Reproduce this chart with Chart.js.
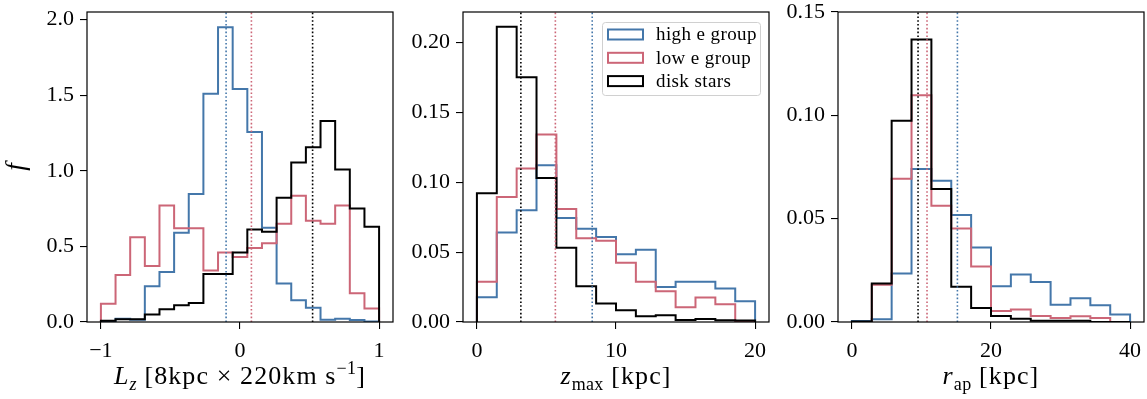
<!DOCTYPE html>
<html>
<head>
<meta charset="utf-8">
<script src="https://cdn.jsdelivr.net/npm/chart.js@4.4.1/dist/chart.umd.min.js"></script>
<style>
  body { margin: 0; background: #fff; }
  #wrap { position: relative; width: 1147px; height: 399px; }
  canvas { position: absolute; top: 0; }
</style>
</head>
<body>
<div id="wrap">
  <canvas id="lz" width="400" height="399" style="left:0px"></canvas>
  <canvas id="zmax" width="376" height="399" style="left:400px"></canvas>
  <canvas id="rap" width="371" height="399" style="left:776px"></canvas>
</div>
<script>
const GROUPS = ["high e group", "low e group", "disk stars"]
const COLORS = ["#4477aa", "#cc6677", "#000000"]

// L_z : 19 bins over [-1, 1]
const lzRange = [-1, 1]
const lzHigh = [0, 0.022, 0.015, 0.236, 0.33, 0.59, 0.846, 1.509, 1.949, 1.54, 1.257, 0.623, 0.254, 0.144, 0.095, 0.015, 0.022, 0.013, 0.003]
const lzLow  = [0.12, 0.31, 0.56, 0.37, 0.77, 0.62, 0.62, 0.34, 0.46, 0.43, 0.49, 0.52, 0.65, 0.835, 0.67, 0.65, 0.77, 0.19, 0.09]
const lzDisk = [0.009, 0.018, 0.018, 0.049, 0.084, 0.11, 0.126, 0.318, 0.318, 0.46, 0.612, 0.597, 0.822, 1.054, 1.156, 1.33, 1.008, 0.751, 0.63]
const lzMean = [-0.10, 0.082, 0.522]
const lzXTicks = [-1, 0, 1]
const lzYTicks = [0, 0.5, 1.0, 1.5, 2.0]

// z_max : 14 bins over [0, 20] kpc
const zRange = [0, 20]
const zHigh = [0.0177, 0.064, 0.0798, 0.112, 0.0743, 0.0666, 0.0608, 0.0484, 0.0517, 0.0251, 0.0287, 0.0287, 0.024, 0.0149]
const zLow  = [0.0287, 0.0893, 0.1097, 0.134, 0.0807, 0.0599, 0.058, 0.0424, 0.0287, 0.022, 0.0105, 0.0175, 0.0127, 0]
const zDisk = [0.092, 0.211, 0.175, 0.103, 0.053, 0.0256, 0.0132, 0.0084, 0.0041, 0.0048, 0.0014, 0.0022, 0.0012, 0.001]
const zMean = [8.29, 5.64, 3.16]
const zXTicks = [0, 10, 20]
const zYTicks = [0, 0.05, 0.10, 0.15, 0.20]

// r_ap : 14 bins over [0, 40] kpc
const rRange = [0, 40]
const rHigh = [0.0005, 0.0013, 0.0235, 0.074, 0.0683, 0.0518, 0.0361, 0.0173, 0.023, 0.0194, 0.0084, 0.0115, 0.0081, 0.0036]
const rLow  = [0, 0.018, 0.0693, 0.1097, 0.0563, 0.0453, 0.0269, 0.0053, 0.0061, 0.0029, 0.0019, 0.0028, 0.0019, 0]
const rDisk = [0.0003, 0.0186, 0.0974, 0.1367, 0.0644, 0.017, 0.0068, 0.0029, 0.0016, 0.0006, 0.0006, 0.0006, 0, 0]
const rMean = [15.17, 10.8, 9.51]
const rXTicks = [0, 20, 40]
const rYTicks = [0, 0.05, 0.10, 0.15]

const SERIF = "'Liberation Serif', 'Times New Roman', serif"
Chart.defaults.font.family = SERIF
Chart.defaults.color = "#000"

// outline of a step histogram: up at the first edge, across each bin, down at the last edge
function stepPoints(range, counts) {
  const w = (range[1] - range[0]) / counts.length
  const pts = [{x: range[0], y: 0}]
  counts.forEach((c, i) => pts.push({x: range[0] + i * w, y: c}))
  pts.push({x: range[1], y: 0})
  return pts
}

function minus(v) {
  return String(v).replace("-", "\u2212")
}

// box around the whole plotting area
const frame = {
  id: "frame",
  afterDatasetsDraw(chart) {
    const a = chart.chartArea, c = chart.ctx
    c.save()
    c.strokeStyle = "#000"
    c.lineWidth = 1.2
    c.strokeRect(a.left, a.top, a.right - a.left, a.bottom - a.top)
    c.restore()
  }
}

// x label with italic symbols, subscripts and superscripts
const axisLabel = {
  id: "axisLabel",
  afterDraw(chart, args, opts) {
    const c = chart.ctx, a = chart.chartArea
    const size = opts.size
    const small = p => p.sub || p.sup
    const setFont = p => {
      c.font = (p.i ? "italic " : "") + (small(p) ? Math.round(size * 0.7) : size) + "px " + SERIF
      c.letterSpacing = (small(p) ? 0.3 : opts.spacing) + "px"
    }
    c.save()
    c.fillStyle = "#000"
    c.textBaseline = "alphabetic"
    let total = 0
    opts.parts.forEach(p => { setFont(p); total += c.measureText(p.t).width })
    let x = (a.left + a.right) / 2 - total / 2
    opts.parts.forEach(p => {
      setFont(p)
      const dy = p.sub ? size * 0.22 : p.sup ? -size * 0.38 : 0
      c.fillText(p.t, x, opts.y + dy)
      x += c.measureText(p.t).width
    })
    if (opts.ylabel) {
      c.letterSpacing = "0px"
      c.font = "italic 27px " + SERIF
      c.textAlign = "center"
      c.translate(opts.ylabelX, (a.top + a.bottom) / 2)
      c.rotate(-Math.PI / 2)
      c.fillText(opts.ylabel, 0, 8)
    }
    c.restore()
  }
}

// legend with open rectangles, placed inside the upper right corner
const boxLegend = {
  id: "boxLegend",
  afterDraw(chart) {
    const c = chart.ctx, a = chart.chartArea
    const sets = chart.data.datasets.filter(d => d.inLegend)
    const w = 158, h = 73
    const x0 = a.right - 9 - w, y0 = a.top + 10
    c.save()
    c.fillStyle = "rgba(255,255,255,0.8)"
    c.strokeStyle = "#d0d0d0"
    c.lineWidth = 1
    c.beginPath()
    c.roundRect(x0 + 0.5, y0 + 0.5, w, h, 3)
    c.fill()
    c.stroke()
    c.font = "19px " + SERIF
    c.letterSpacing = "0.4px"
    c.textBaseline = "middle"
    sets.forEach((d, k) => {
      const cy = y0 + 12.5 + k * 23.3
      c.strokeStyle = d.borderColor
      c.lineWidth = 2
      c.strokeRect(x0 + 6, cy - 5, 35, 10)
      c.fillStyle = "#000"
      c.fillText(d.label, x0 + 54, cy + 1)
    })
    c.restore()
  }
}

function panel(id, cfg) {
  const sets = [cfg.high, cfg.low, cfg.disk].map((counts, k) => ({
    label: GROUPS[k],
    data: stepPoints(cfg.range, counts),
    borderColor: COLORS[k],
    borderWidth: 2,
    stepped: true,
    pointRadius: 0,
    fill: false,
    order: 3 - k,
    inLegend: true
  }))
  cfg.means.forEach((m, k) => sets.push({
    label: GROUPS[k] + " mean",
    data: [{x: m, y: cfg.ylim[0]}, {x: m, y: cfg.ylim[1]}],
    borderColor: COLORS[k],
    borderWidth: 1.6,
    borderDash: [1.6, 2.2],
    pointRadius: 0,
    fill: false,
    order: 0
  }))

  const tickGrid = {display: true, drawOnChartArea: false, drawTicks: true, tickLength: 7, color: "#000", lineWidth: 1.1}

  return new Chart(document.getElementById(id), {
    type: "line",
    data: {datasets: sets},
    plugins: [frame, axisLabel].concat(cfg.legend ? [boxLegend] : []),
    options: {
      responsive: false,
      animation: false,
      events: [],
      layout: {padding: {left: 0, right: cfg.padRight, top: 12, bottom: 0}},
      plugins: {
        legend: {display: false},
        tooltip: {enabled: false},
        axisLabel: {parts: cfg.xlabel, y: 384, size: 26, spacing: 1.1, ylabel: cfg.ylabel, ylabelX: 16}
      },
      scales: {
        x: {
          type: "linear",
          min: cfg.xlim[0],
          max: cfg.xlim[1],
          afterBuildTicks: s => { s.ticks = cfg.xticks.map(v => ({value: v})) },
          afterFit: s => { s.height = 77; s.paddingLeft = 0; s.paddingRight = 0 },
          ticks: {font: {size: 22}, padding: 9, maxRotation: 0, autoSkip: false, callback: v => minus(v)},
          grid: tickGrid,
          border: {display: false}
        },
        y: {
          min: cfg.ylim[0],
          max: cfg.ylim[1],
          afterBuildTicks: s => { s.ticks = cfg.yticks.map(v => ({value: v})) },
          afterFit: s => { s.width = cfg.yWidth; s.paddingTop = 0; s.paddingBottom = 0 },
          ticks: {font: {size: 22}, padding: 6, autoSkip: false, callback: v => v.toFixed(cfg.digits)},
          grid: tickGrid,
          border: {display: false}
        }
      }
    }
  })
}

panel("lz", {
  range: lzRange, high: lzHigh, low: lzLow, disk: lzDisk, means: lzMean,
  xticks: lzXTicks, yticks: lzYTicks, xlim: [-1.1, 1.1], ylim: [0, 2.05], digits: 1,
  yWidth: 87, padRight: 7, ylabel: "f",
  xlabel: [{t: "L", i: true}, {t: "z", i: true, sub: true}, {t: " [8kpc \u00d7 220km s"}, {t: "\u22121", sup: true}, {t: "]"}]
})

panel("zmax", {
  range: zRange, high: zHigh, low: zLow, disk: zDisk, means: zMean,
  xticks: zXTicks, yticks: zYTicks, xlim: [-1, 21], ylim: [0, 0.2216], digits: 2,
  yWidth: 63, padRight: 7, legend: true,
  xlabel: [{t: "z", i: true}, {t: "max", sub: true}, {t: " [kpc]"}]
})

panel("rap", {
  range: rRange, high: rHigh, low: rLow, disk: rDisk, means: rMean,
  xticks: rXTicks, yticks: rYTicks, xlim: [-2, 42], ylim: [0, 0.15], digits: 2,
  yWidth: 62, padRight: 3,
  xlabel: [{t: "r", i: true}, {t: "ap", sub: true}, {t: " [kpc]"}]
})
</script>
</body>
</html>
